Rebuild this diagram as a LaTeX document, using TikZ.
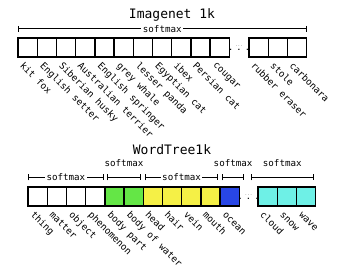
\documentclass[tikz,border=0pt]{standalone}
\usepackage{fontspec}
\setmonofont{DejaVu Sans Mono}
\usepackage{xcolor}
\usetikzlibrary{positioning,calc,arrows.meta}
\definecolor{treeGreen}{RGB}{100,230,70}
\definecolor{treeYellow}{RGB}{245,240,70}
\definecolor{treeBlue}{RGB}{40,70,230}
\definecolor{treeCyan}{RGB}{110,240,230}

\begin{document}
\begin{tikzpicture}[x=1pt,y=1pt,
    cell/.style={draw, line width=1.4pt, minimum size=19.2pt, inner sep=0pt, outer sep=0pt},
    lbl/.style={rotate=-45, anchor=west, inner sep=0pt, font=\ttfamily\fontsize{9.4}{10}\selectfont},
    sm/.style={font=\ttfamily\fontsize{9.2}{10}\selectfont, inner sep=1.5pt},
    span/.style={{Bar[width=6pt]}-{Bar[width=6pt]}, line width=1pt},
    title/.style={font=\ttfamily\fontsize{13}{14}\selectfont},
    gap/.style={align=center, inner sep=0pt, font=\ttfamily\fontsize{4.5}{4.5}\selectfont}]
\useasboundingbox (0,0) rectangle (350,-275);

% Imagenet 1k
\node[title] (IN) at (172,-15) {Imagenet 1k};
\foreach \i in {1,...,11}
    \node[cell] (T\i) at ({27.6+(\i-1)*19.2},-47.5) {};
\foreach \i in {12,13,14}
    \node[cell] (T\i) at ({258.6+(\i-12)*19.2},-47.5) {};
\node[gap] (TD) at ($(T11.east)!0.5!(T12.west)+(0,-1)$) {\textcolor{gray}{...}\\[-0.5pt]\fontsize{7}{7}\selectfont\bfseries. . .};
\draw[span] ([yshift=9pt]T1.north west) -- ([yshift=9pt]T14.north east) node[midway, sm, fill=white] {softmax};
\foreach \i/\t in {1/kit fox, 2/English setter, 3/Siberian husky, 4/Australian terrier,
        5/English springer, 6/grey whale, 7/lesser panda, 8/Egyptian cat, 9/ibex,
        10/Persian cat, 11/cougar, 12/rubber eraser, 13/stole, 14/carbonara}
    \node[lbl] (TL\i) at ([shift={(4pt,-7pt)}]T\i.south west) {\t};

% WordTree1k
\node[title] (WT) at (172,-150) {WordTree1k};
\foreach \i/\c in {1/white, 2/white, 3/white, 4/white, 5/treeGreen, 6/treeGreen,
        7/treeYellow, 8/treeYellow, 9/treeYellow, 10/treeYellow, 11/treeBlue}
    \node[cell, fill=\c] (W\i) at ({37.6+(\i-1)*19.2},-196.5) {};
\foreach \i in {12,13,14}
    \node[cell, fill=treeCyan] (W\i) at ({267.6+(\i-12)*19.2},-196.5) {};
\node[gap] (WD) at ($(W11.east)!0.5!(W12.west)+(0,-1)$) {\textcolor{gray}{...}\\[-0.5pt]\fontsize{7}{7}\selectfont\bfseries. . .};
\draw[span] ([yshift=9.5pt]W1.north west) -- ([shift={(-1pt,9.5pt)}]W4.north east) node[midway, sm, fill=white] {softmax};
\draw[span] ([shift={(2pt,9.5pt)}]W5.north west) -- ([shift={(-2pt,9.5pt)}]W6.north east) node[midway, above=9pt, sm] {softmax};
\draw[span] ([shift={(2pt,9.5pt)}]W7.north west) -- ([shift={(-2pt,9.5pt)}]W10.north east) node[midway, sm, fill=white] {softmax};
\draw[span] ([shift={(2pt,9.5pt)}]W11.north west) -- ([shift={(5pt,9.5pt)}]W11.north east) node[midway, above=9pt, sm] {softmax};
\draw[span] ([shift={(-7pt,9.5pt)}]W12.north west) -- ([shift={(-2pt,9.5pt)}]W14.north east) node[midway, above=9pt, sm] {softmax};
\foreach \i/\t in {1/thing, 2/matter, 3/object, 4/phenomenon, 5/body part, 6/body of water,
        7/head, 8/hair, 9/vein, 10/mouth, 11/ocean, 12/cloud, 13/snow, 14/wave}
    \node[lbl] (WL\i) at ([shift={(4pt,-7pt)}]W\i.south west) {\t};
\end{tikzpicture}
\end{document}
